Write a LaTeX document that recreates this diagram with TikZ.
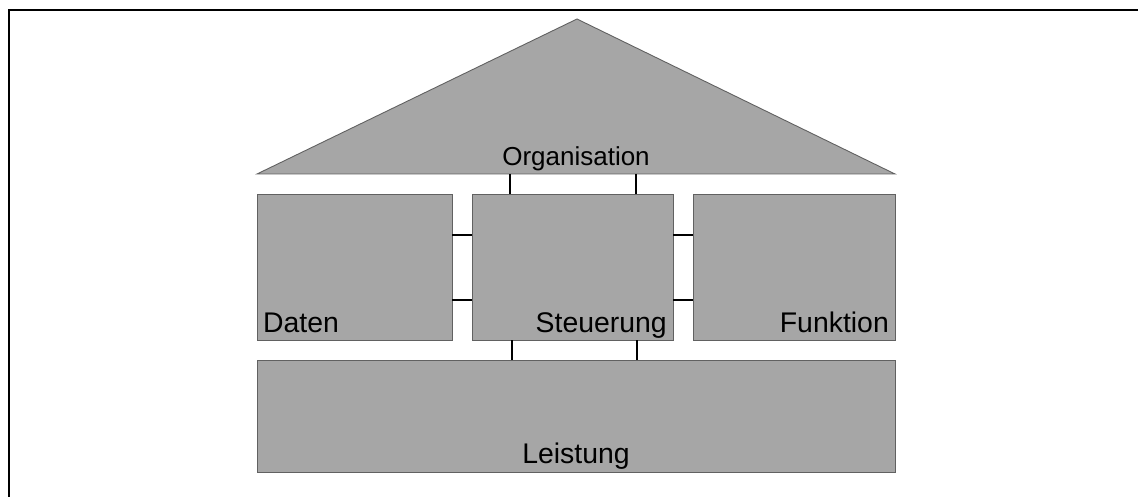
\documentclass[tikz,border=0pt]{standalone}
\usepackage{fontspec}
\setmainfont{Liberation Sans}
\begin{document}
\begin{tikzpicture}[x=1pt,y=-1pt,
  block/.style={draw=black!62, fill=black!35, line width=0.9pt, inner sep=0pt, outer sep=0pt, anchor=north west},
  link/.style={draw=black, line width=1.8pt},
  lbl/.style={inner sep=0pt, font=\fontsize{28.4}{32}\selectfont},
  frameline/.style={draw=black, line width=2.2pt}]
\useasboundingbox (0,0) rectangle (1138,497);
% open frame along top and left edge
\draw[frameline] (9,497) -- (9,10) -- (1138,10);
% roof
\coordinate (roofL) at (257,174);
\coordinate (roofR) at (895,174);
\coordinate (apex) at (577,19);
\draw[draw=black!62, fill=black!35, line width=0.9pt, line join=miter] (roofL) -- (apex) -- (roofR) -- cycle;
\node[lbl, font=\fontsize{26}{30}\selectfont, anchor=base] (org) at (576,166) {Organisation};
% building blocks
\node[block, minimum width=195pt, minimum height=146pt] (daten) at (257,194) {};
\node[block, minimum width=201pt, minimum height=146pt] (steu) at (472,194) {};
\node[block, minimum width=202pt, minimum height=146pt] (funk) at (693,194) {};
\node[block, minimum width=638pt, minimum height=112pt] (leist) at (257,360) {};
% labels
\node[lbl, anchor=base west] (tdaten) at (263,332) {Daten};
\node[lbl, anchor=base east] (tsteu) at (667,332) {Steuerung};
\node[lbl, anchor=base east] (tfunk) at (889,332) {Funktion};
\node[lbl, anchor=base] (tleist) at (576,463) {Leistung};
% connectors
\coordinate (o1) at (510,174);
\coordinate (o2) at (636,174);
\draw[link] (o1) -- (o1 |- steu.north);
\draw[link] (o2) -- (o2 |- steu.north);
\coordinate (l1) at (512,360);
\coordinate (l2) at (637,360);
\draw[link] (l1 |- steu.south) -- (l1);
\draw[link] (l2 |- steu.south) -- (l2);
\coordinate (h1) at (0,235);
\coordinate (h2) at (0,300);
\draw[link] (daten.east |- h1) -- (steu.west |- h1);
\draw[link] (daten.east |- h2) -- (steu.west |- h2);
\draw[link] (steu.east |- h1) -- (funk.west |- h1);
\draw[link] (steu.east |- h2) -- (funk.west |- h2);
\end{tikzpicture}
\end{document}
